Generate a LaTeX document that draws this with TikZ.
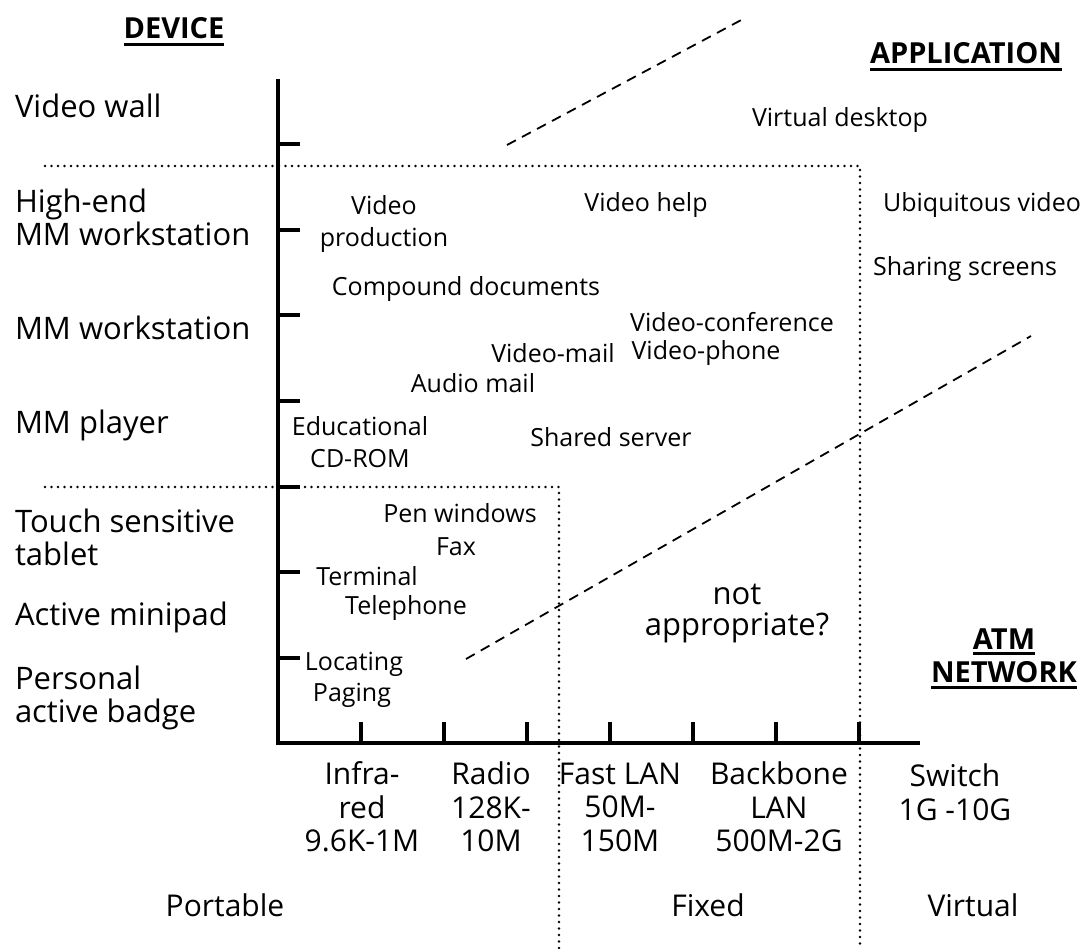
\documentclass[tikz,border=0pt]{standalone}
\usepackage{fontspec}
\setmainfont{Open Sans}
\begin{document}
\begin{tikzpicture}[x=1pt,y=-1pt,
  every node/.style={inner sep=0pt,outer sep=0pt},
  dev/.style={anchor=west,align=left,font=\fontsize{31}{33}\selectfont},
  app/.style={align=center,font=\fontsize{25}{32}\selectfont},
  net/.style={align=center,font=\fontsize{30}{33.5}\selectfont},
  hdr/.style={font=\fontsize{29}{33}\selectfont\bfseries},
  ul/.style={line width=2.4pt},
  axis/.style={line width=4pt},
  tickline/.style={line width=4pt},
  dotline/.style={line width=2.6pt,line cap=round,dash pattern=on 0pt off 6.5pt},
  dashline/.style={line width=1.8pt,dash pattern=on 10pt off 7pt}]
\useasboundingbox (0,0) rectangle (1089,949);

% headers
\node[hdr] (device) at (174,28) {DEVICE};
\node[hdr] (appl) at (966,53) {APPLICATION};
\node[hdr] (atm) at (1004,639) {ATM};
\node[hdr] (netw) at (1004,672) {NETWORK};
\draw[ul] ([yshift=-6pt]device.base west) -- ([yshift=-6pt]device.base east);
\draw[ul] ([yshift=-6pt]appl.base west) -- ([yshift=-6pt]appl.base east);
\draw[ul] ([yshift=-4pt]atm.base west) -- ([yshift=-4pt]atm.base east);
\draw[ul] ([yshift=-5pt]netw.base west) -- ([yshift=-5pt]netw.base east);

% device labels
\node[dev] (vw) at (15,106) {Video wall};
\node[dev] (he) at (15,217) {High-end\\MM workstation};
\node[dev] (mmw) at (15,328) {MM workstation};
\node[dev] (mmp) at (15,425) {MM player};
\node[dev] (tst) at (15,537) {Touch sensitive\\tablet};
\node[dev] (am) at (15,617) {Active minipad};
\node[dev] (pab) at (15,698) {Personal\\active badge};

% dotted region borders
\coordinate (d1a) at (45,166);
\coordinate (d1b) at (860,166);
\coordinate (d1c) at (860,949);
\coordinate (d2a) at (45,487);
\coordinate (d2b) at (559,487);
\coordinate (d2c) at (559,949);
\draw[dotline] (d1a) -- (d1b) -- (d1c);
\draw[dotline] (d2a) -- (d2b) -- (d2c);

% dashed lines
\coordinate (u1) at (507,145);
\coordinate (u2) at (745,18);
\coordinate (l1) at (466,659);
\coordinate (l2) at (1031,336);
\draw[dashline] (u1) -- (u2);
\draw[dashline] (l1) -- (l2);

% axes
\coordinate (o) at (278,743);
\coordinate (ytop) at (278,79);
\coordinate (xend) at (920,743);
\draw[axis] ([yshift=-2pt]o) -- (ytop);
\draw[axis] ([xshift=-2pt]o) -- (xend);
\foreach \k in {1,...,7} {
  \draw[tickline] (278,743-85.5*\k) -- (300,743-85.5*\k);
  \draw[tickline] (278+83*\k,743) -- (278+83*\k,722);
}

% application labels
\node[app] (vp) at (384,224) {Video\\production};
\node[app] (vh) at (646,205) {Video help};
\node[app] (cd) at (466,289) {Compound documents};
\node[app] (vc) at (732,322) {Video-conference};
\node[app] (vm) at (553,353) {Video-mail};
\node[app] (vph) at (706,353) {Video-phone};
\node[app] (aud) at (473,383) {Audio mail};
\node[app] (edu) at (360,442) {Educational\\CD-ROM};
\node[app] (ss) at (611,437) {Shared server};
\node[app] (vd) at (840,120) {Virtual desktop};
\node[app] (uv) at (982,205) {Ubiquitous video};
\node[app] (shs) at (965,269) {Sharing screens};
\node[app] (pw) at (460,513) {Pen windows};
\node[app] (fax) at (456,547) {Fax};
\node[app] (term) at (367,576) {Terminal};
\node[app] (tel) at (406,608) {Telephone};
\node[app] (loc) at (354,664) {Locating};
\node[app] (pag) at (352,695) {Paging};
\node[net,font=\fontsize{31}{31}\selectfont] (na) at (737,614) {not\\appropriate?};

% network labels
\node[net] (ir) at (362,807) {Infra-\\red\\9.6K-1M};
\node[net] (rad) at (491,807) {Radio\\128K-\\10M};
\node[net] (fl) at (620,807) {Fast LAN\\50M-\\150M};
\node[net] (bb) at (779,807) {Backbone\\LAN\\500M-2G};
\node[net] (sw) at (955,792) {Switch\\1G -10G};
\node[net] (port) at (225,905) {Portable};
\node[net] (fix) at (708,905) {Fixed};
\node[net] (virt) at (973,905) {Virtual};
\end{tikzpicture}
\end{document}
